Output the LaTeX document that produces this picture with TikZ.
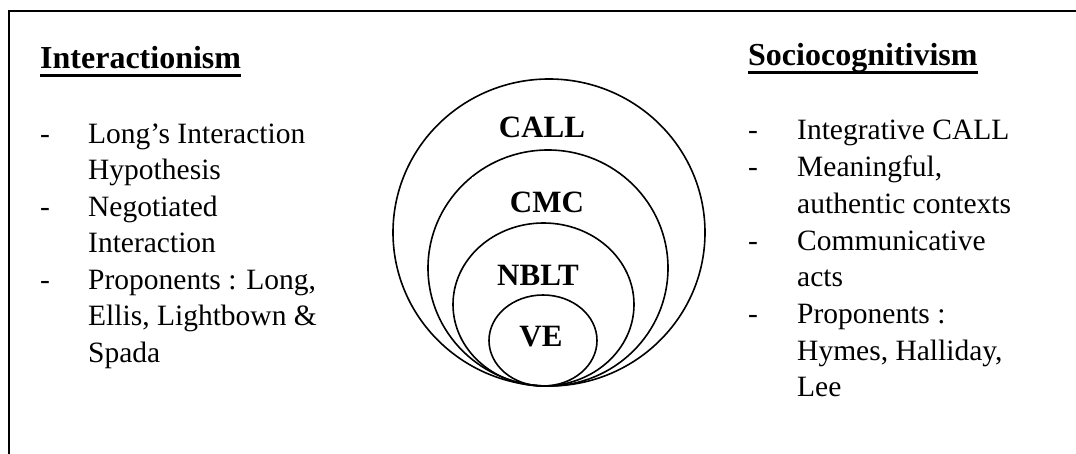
\documentclass[tikz,border=0pt]{standalone}
\usepackage{fontspec}
\setmainfont{Liberation Serif}
\usetikzlibrary{calc}
\begin{document}
\begin{tikzpicture}[x=1bp,y=-1bp,
  body/.style={inner sep=0pt, anchor=base west, font=\fontsize{29.5bp}{36.5bp}\selectfont},
  heading/.style={inner sep=0pt, anchor=base west, font=\fontsize{32bp}{38bp}\selectfont\bfseries},
  lab/.style={inner sep=0pt, font=\fontsize{31bp}{37bp}\selectfont\bfseries},
  ring/.style={line width=1.6bp},
  frameline/.style={line width=1.9bp},
  uline/.style={line width=3.5bp}]
\useasboundingbox (0,0) rectangle (1076,454);
% frame (left and top edges only)
\draw[frameline] (9,454) -- (9,11) -- (1076,11);

% nested ellipses
\draw[ring] (549,232.5) ellipse [x radius=156, y radius=153.5];
\draw[ring] (548,268) ellipse [x radius=120, y radius=118];
\draw[ring] (543.5,304.5) ellipse [x radius=90.5, y radius=81.5];
\draw[ring] (543,340.5) ellipse [x radius=54, y radius=45.5];

% ring labels
\node[lab] (call) at (542,127) {CALL};
\node[lab, anchor=base, fill=white, text height=36bp, text depth=8bp, minimum width=150bp] (cmc) at (547,213) {CMC};
\node[lab] (nblt) at (538,275) {NBLT};
\node[lab] (ve) at (541,337) {VE};

% left column
\node[heading] (th1) at (40,68.3) {Interactionism};
\draw[uline] ($(th1.base west)+(0,7)$) -- ($(th1.base east)+(0,7)$);
\node[body] (ld1) at (40,143.3) {-};
\node[body] (l1a) at (88,143.3) {Long’s Interaction};
\node[body] (l1b) at (88,179.8) {Hypothesis};
\node[body] (ld2) at (40,216.5) {-};
\node[body] (l2a) at (88,216.5) {Negotiated};
\node[body] (l2b) at (88,253) {Interaction};
\node[body] (ld3) at (40,289.5) {-};
\node[body] (l3a) at (88,289.5) {Proponents : Long,};
\node[body] (l3b) at (88,326) {Ellis, Lightbown \&};
\node[body] (l3c) at (88,362.5) {Spada};

% right column
\node[heading] (th2) at (748,65.5) {Sociocognitivism};
\draw[uline] ($(th2.base west)+(0,7)$) -- ($(th2.base east)+(0,7)$);
\node[body] (rd1) at (748,140) {-};
\node[body] (r1a) at (797,140) {Integrative CALL};
\node[body] (rd2) at (748,176.7) {-};
\node[body] (r2a) at (797,176.7) {Meaningful,};
\node[body] (r2b) at (797,213.4) {authentic contexts};
\node[body] (rd3) at (748,250.1) {-};
\node[body] (r3a) at (797,250.1) {Communicative};
\node[body] (r3b) at (797,286.8) {acts};
\node[body] (rd4) at (748,323.5) {-};
\node[body] (r4a) at (797,323.5) {Proponents :};
\node[body] (r4b) at (797,360.2) {Hymes, Halliday,};
\node[body] (r4c) at (797,396.9) {Lee};
\end{tikzpicture}
\end{document}
